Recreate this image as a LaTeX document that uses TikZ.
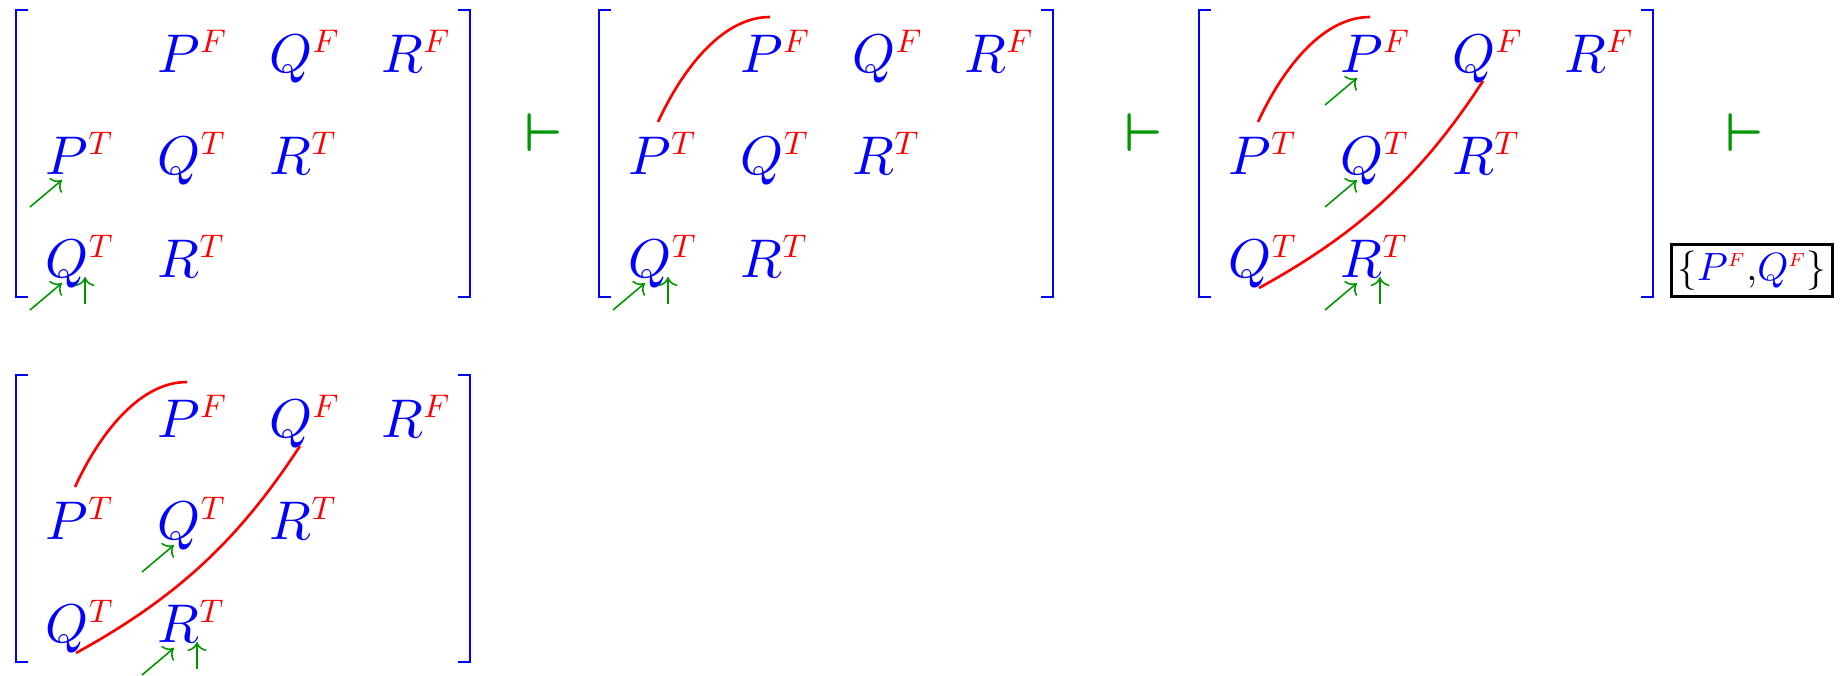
\RequirePackage{fix-cm}
\documentclass[tikz,border=0pt]{standalone}
\usepackage{amsmath}
\usepackage{xcolor}
\usepackage{tikz}
\usetikzlibrary{arrows.meta}
\definecolor{litblue}{RGB}{0,0,255}
\definecolor{litred}{RGB}{255,0,0}
\definecolor{stepgreen}{RGB}{0,150,0}
\DeclareFontShape{OML}{cmm}{m}{it}{<-9>cmmi7 <9->cmmi10}{\skewchar\font=127}
\DeclareMathSizes{15.5}{15.5}{9.3}{7}
\DeclareMathSizes{11.2}{11.2}{5.4}{5}
\newcommand{\lit}[2]{$#1^{\textcolor{litred}{#2}}$}
\tikzset{
  entry/.style={text=litblue, anchor=base west, inner sep=0pt,
    font=\fontsize{15.5}{18}\selectfont},
  bracket/.style={draw=litblue, line width=0.6pt},
  tie/.style={draw=litred, line width=0.75pt},
  pointer/.style={->, draw=stepgreen, line width=0.45pt},
  turn/.style={text=stepgreen, inner sep=0pt, font=\fontsize{15.5}{18}\selectfont},
  resultbox/.style={draw=black, line width=0.8pt, inner xsep=1.6pt,
    inner ysep=1.8pt, font=\fontsize{11.2}{13}\selectfont}
}

\begin{document}
\begin{tikzpicture}[x=0.01cm,y=-0.01cm]
  \useasboundingbox (0,0) rectangle (1843,675);

  \foreach \k/\x/\y in {1/16/10,2/599/10,3/1199/10,4/16/375} {
    \begin{scope}[shift={(\x,\y)}]
      \draw[bracket] (12,0) -- (0,0) -- (0,287) -- (12,287);
      \draw[bracket] (442,0) -- (454,0) -- (454,287) -- (442,287);
      \node[entry] (PF\k) at (141,62) {\lit{P}{F}};
      \node[entry] (QF\k) at (253,62) {\lit{Q}{F}};
      \node[entry] (RF\k) at (365,62) {\lit{R}{F}};
      \node[entry] (PT\k) at (29,164) {\lit{P}{T}};
      \node[entry] (QT\k) at (141,164) {\lit{Q}{T}};
      \node[entry] (RT\k) at (253,164) {\lit{R}{T}};
      \node[entry] (QL\k) at (29,267) {\lit{Q}{T}};
      \node[entry] (RL\k) at (141,267) {\lit{R}{T}};
    \end{scope}
  }

  \node[turn] (turn1) at (543.5,132.5) {$\boldsymbol{\vdash}$};
  \node[turn] (turn2) at (1144,132.5) {$\boldsymbol{\vdash}$};
  \node[turn] (turn3) at (1745,132.5) {$\boldsymbol{\vdash}$};
  \node[resultbox] (result) at (1752,270.5)
    {$\{\textcolor{litblue}{P}^{\textcolor{litred}{F}}{,}\textcolor{litblue}{Q}^{\textcolor{litred}{F}}\}$};

  \foreach \k in {2,3,4}
    \draw[tie] ([shift={(30,-52)}]PT\k.base west) .. controls +(22,-48) and +(-50,0) .. ([shift={(30,-55)}]PF\k.base west);
  \foreach \k in {3,4}
    \draw[tie] ([shift={(31,11)}]QL\k.base west) .. controls +(100,-55) and +(-62,95) .. ([shift={(31,9)}]QF\k.base west);

  \foreach \n in {PT1,QL1,QL2,PF3,QT3,RL3,QT4,RL4}
    \draw[pointer] ([shift={(-15,33)}]\n.base west) -- ([shift={(17,6)}]\n.base west);
  \foreach \n in {QL1,QL2,RL3,RL4}
    \draw[pointer] ([shift={(40,27)}]\n.base west) -- ([shift={(40,0)}]\n.base west);
\end{tikzpicture}
\end{document}
